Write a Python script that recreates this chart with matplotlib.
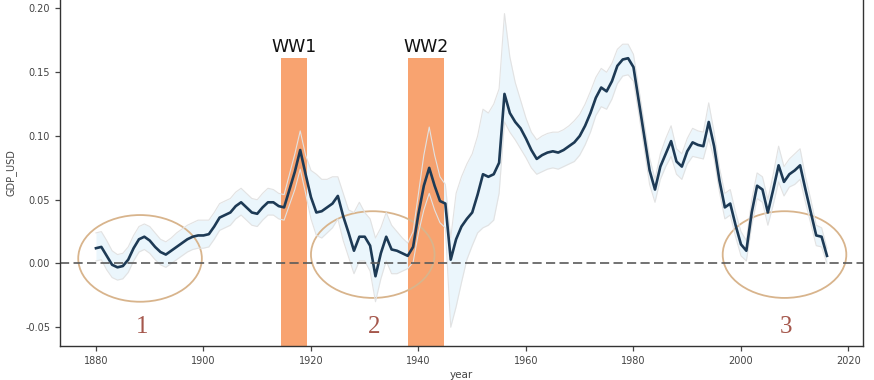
import matplotlib
matplotlib.use("Agg")
import matplotlib.pyplot as plt
from matplotlib.patches import Ellipse
import numpy as np

# yearly values, 1880-2016
years = np.arange(1880, 2017)
gdp = [
    0.012, 0.013, 0.006, -0.001, -0.003, -0.002, 0.003, 0.012, 0.019, 0.021,
    0.018, 0.013, 0.009, 0.007, 0.010, 0.013, 0.016, 0.019, 0.021, 0.022,
    0.022, 0.023, 0.029, 0.036, 0.038, 0.040, 0.045, 0.048, 0.044, 0.040,
    0.039, 0.044, 0.048, 0.048, 0.045, 0.044, 0.058, 0.072, 0.089, 0.070,
    0.052, 0.040, 0.041, 0.044, 0.047, 0.053, 0.037, 0.024, 0.010, 0.021,
    0.021, 0.014, -0.010, 0.008, 0.021, 0.011, 0.010, 0.008, 0.006, 0.013,
    0.039, 0.061, 0.075, 0.061, 0.049, 0.047, 0.003, 0.019, 0.029, 0.035,
    0.040, 0.054, 0.070, 0.068, 0.070, 0.079, 0.133, 0.118, 0.111, 0.106,
    0.098, 0.089, 0.082, 0.085, 0.087, 0.088, 0.087, 0.089, 0.092, 0.095,
    0.100, 0.108, 0.118, 0.130, 0.138, 0.135, 0.143, 0.155, 0.160, 0.161,
    0.154, 0.127, 0.100, 0.073, 0.058, 0.076, 0.086, 0.096, 0.080, 0.076,
    0.088, 0.095, 0.093, 0.092, 0.111, 0.092, 0.065, 0.044, 0.047, 0.030,
    0.015, 0.010, 0.040, 0.061, 0.058, 0.040, 0.058, 0.077, 0.064, 0.070,
    0.073, 0.077, 0.058, 0.040, 0.022, 0.021, 0.006,
]
gdp_upper = [
    0.024, 0.025, 0.018, 0.010, 0.007, 0.008, 0.013, 0.022, 0.029, 0.031,
    0.029, 0.024, 0.019, 0.017, 0.020, 0.024, 0.027, 0.030, 0.032, 0.034,
    0.034, 0.034, 0.040, 0.047, 0.049, 0.051, 0.056, 0.059, 0.055, 0.051,
    0.050, 0.055, 0.059, 0.058, 0.055, 0.054, 0.070, 0.086, 0.104, 0.085,
    0.073, 0.070, 0.066, 0.066, 0.068, 0.068, 0.055, 0.042, 0.040, 0.048,
    0.040, 0.035, 0.020, 0.028, 0.040, 0.030, 0.025, 0.020, 0.016, 0.025,
    0.055, 0.085, 0.107, 0.085, 0.068, 0.062, 0.020, 0.055, 0.068, 0.078,
    0.086, 0.100, 0.121, 0.118, 0.125, 0.137, 0.196, 0.162, 0.142, 0.128,
    0.114, 0.103, 0.097, 0.100, 0.102, 0.103, 0.103, 0.105, 0.108, 0.112,
    0.117, 0.125, 0.135, 0.146, 0.153, 0.150, 0.157, 0.168, 0.172, 0.172,
    0.164, 0.137, 0.110, 0.083, 0.066, 0.086, 0.098, 0.108, 0.090, 0.086,
    0.098, 0.106, 0.104, 0.103, 0.126, 0.103, 0.075, 0.055, 0.058, 0.040,
    0.025, 0.018, 0.050, 0.071, 0.068, 0.050, 0.070, 0.092, 0.076, 0.082,
    0.086, 0.090, 0.068, 0.050, 0.030, 0.028, 0.012,
]
gdp_lower = [
    0.002, 0.003, -0.005, -0.011, -0.013, -0.012, -0.007, 0.002, 0.009, 0.011,
    0.008, 0.003, -0.001, -0.003, 0.000, 0.003, 0.006, 0.009, 0.011, 0.012,
    0.012, 0.013, 0.019, 0.026, 0.028, 0.030, 0.035, 0.038, 0.034, 0.030,
    0.029, 0.034, 0.038, 0.038, 0.035, 0.034, 0.046, 0.058, 0.074, 0.055,
    0.035, 0.022, 0.020, 0.024, 0.028, 0.035, 0.018, 0.005, -0.008, 0.002,
    0.002, -0.006, -0.030, -0.012, 0.002, -0.008, -0.008, -0.006, -0.004, 0.001,
    0.024, 0.042, 0.055, 0.042, 0.032, 0.028, -0.050, -0.034, -0.015, 0.003,
    0.014, 0.024, 0.028, 0.030, 0.034, 0.055, 0.111, 0.103, 0.097, 0.090,
    0.083, 0.075, 0.070, 0.072, 0.074, 0.075, 0.074, 0.076, 0.078, 0.080,
    0.085, 0.093, 0.103, 0.116, 0.123, 0.121, 0.129, 0.141, 0.147, 0.148,
    0.143, 0.117, 0.090, 0.062, 0.048, 0.066, 0.076, 0.084, 0.070, 0.066,
    0.078, 0.084, 0.083, 0.082, 0.098, 0.082, 0.056, 0.035, 0.038, 0.021,
    0.006, 0.002, 0.030, 0.051, 0.048, 0.030, 0.046, 0.064, 0.053, 0.060,
    0.062, 0.066, 0.048, 0.031, 0.014, 0.013, 0.000,
]

# war periods
war_labels = ["WW1", "WW2"]
war_start = [1914.4, 1938.0]
war_end = [1919.3, 1944.7]
war_top = 0.161

# circled periods
circle_labels = ["1", "2", "3"]
circle_x = [1888.2, 1931.5, 2008.1]
circle_y = [0.004, 0.007, 0.007]

fig = plt.figure(figsize=(8.74, 3.80), dpi=100)
ax = fig.add_axes([0.0686, 0.0895, 0.9188, 0.915])

ax.fill_between(years, gdp_lower, gdp_upper, color="#d9eefa", alpha=0.5, lw=0)
ax.plot(years, gdp_upper, color="#e2e2e2", lw=0.8)
ax.plot(years, gdp_lower, color="#e2e2e2", lw=0.8)
ax.plot(years, gdp, color="#1d3a55", lw=1.9)

ax.axhline(0, color="#5a5a5a", lw=1.2, ls=(0, (5.5, 2.6)))

for lab, s, e in zip(war_labels, war_start, war_end):
    ax.bar(s, war_top + 0.1, bottom=-0.1, width=e - s, align="edge",
           color="#f78a48", alpha=0.78, lw=0)
    ax.text((s + e) / 2, 0.170, lab, ha="center", va="center",
            fontsize=12.5, color="#111111")

for lab, cx, cy in zip(circle_labels, circle_x, circle_y):
    ax.add_patch(Ellipse((cx, cy), 23.0, 0.068, fill=False,
                         edgecolor="#d8b48c", lw=1.3))
    ax.text(cx + 0.3, -0.050, lab, ha="center", va="center",
            fontsize=18, color="#a5574c", family="Liberation Serif")

ax.set_xlim(1873.3, 2022.7)
ax.set_ylim(-0.0647, 0.208)
ax.set_xticks([1880, 1900, 1920, 1940, 1960, 1980, 2000, 2020])
ax.set_yticks([-0.05, 0.00, 0.05, 0.10, 0.15, 0.20])
ax.yaxis.set_major_formatter(matplotlib.ticker.FormatStrFormatter("%.2f"))
ax.tick_params(labelsize=7, colors="#444444", length=3.5, width=0.9)
for sp in ax.spines.values():
    sp.set_color("#333333")
    sp.set_linewidth(1.0)

ax.set_xlabel("year", fontsize=7.5, color="#444444", labelpad=3)
ax.set_ylabel("GDP_USD", fontsize=7, color="#444444", labelpad=6)

fig.savefig("out.png", dpi=100)
